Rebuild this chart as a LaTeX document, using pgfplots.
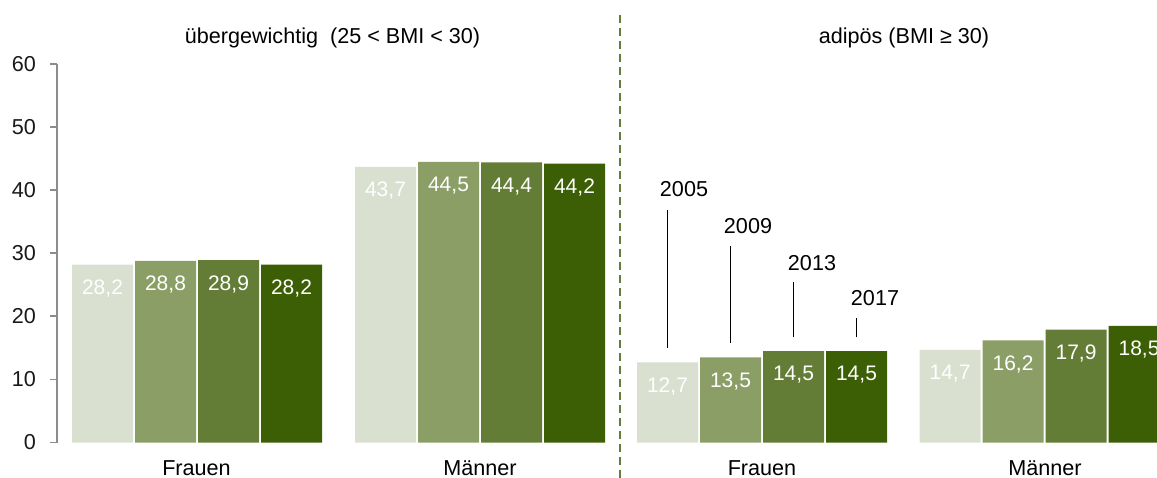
\documentclass[border=0pt]{standalone}
\usepackage{fontspec}
\setmainfont{Liberation Sans}
\usepackage{pgfplots}
\pgfplotsset{compat=1.18}
\definecolor{c1}{RGB}{217,224,207}
\definecolor{c2}{RGB}{138,158,102}
\definecolor{c3}{RGB}{99,125,55}
\definecolor{c4}{RGB}{60,94,4}
\definecolor{dashc}{RGB}{100,125,60}
\definecolor{axgray}{RGB}{140,140,140}
\begin{document}
\begin{tikzpicture}
\begin{axis}[name=ax, scale only axis, width=550pt, height=189.25pt,
  xmin=57, xmax=1157, ymin=0, ymax=60, enlargelimits=false, clip=false,
  hide x axis, axis y line*=left,
  y axis line style={color=axgray, line width=0.9pt},
  ytick={0,10,20,30,40,50,60}, yticklabels={0,10,20,30,40,50,60},
  tick align=outside, major tick length=3.5pt,
  ytick style={color=axgray, line width=0.9pt},
  yticklabel style={font=\fontsize{10.8}{12}\selectfont, text=black!90, xshift=-3.5pt},
  ybar, bar width=61, bar shift=0pt,
  nodes near coords={\pgfmathprintnumber[use comma,fixed,fixed zerofill,precision=1,assume math mode=true]{\pgfplotspointmeta}},
  every node near coord/.append style={anchor=center, yshift=-12pt, text=white, font=\fontsize{10.5}{12}\selectfont},
  font=\fontsize{10.8}{12}\selectfont,
]
\addplot[fill=c1, draw=none] coordinates {(102.5,28.2) (385.5,43.7) (667.5,12.7) (950,14.7)};
\addplot[fill=c2, draw=none] coordinates {(165.5,28.8) (448.5,44.5) (730.5,13.5) (1013,16.2)};
\addplot[fill=c3, draw=none] coordinates {(228.5,28.9) (511.5,44.4) (793.5,14.5) (1076,17.9)};
\addplot[fill=c4, draw=none] coordinates {(291.5,28.2) (574.5,44.2) (856.5,14.5) (1139,18.5)};

\draw[dashc, line width=1pt, dash pattern=on 4pt off 2.5pt] (axis cs:620,67.8) -- (axis cs:620,-5.6);

\draw[black, line width=0.6pt] (axis cs:667.5,15.0) -- (axis cs:667.5,36.9);
\draw[black, line width=0.6pt] (axis cs:730.5,15.8) -- (axis cs:730.5,31.1);
\draw[black, line width=0.6pt] (axis cs:793.5,16.7) -- (axis cs:793.5,25.4);
\draw[black, line width=0.6pt] (axis cs:856.5,16.7) -- (axis cs:856.5,19.7);
\node at (axis cs:684,40.2) {2005};
\node at (axis cs:748,34.3) {2009};
\node at (axis cs:812,28.5) {2013};
\node at (axis cs:875,22.9) {2017};

\node at (axis cs:332.5,64.1) {übergewichtig\ \ (25 < BMI < 30)};
\node at (axis cs:904,64.1) {adipös (BMI ≥ 30)};

\node at (axis cs:196.5,-4.05) {Frauen};
\node at (axis cs:480,-4.05) {Männer};
\node at (axis cs:762,-4.05) {Frauen};
\node at (axis cs:1045,-4.05) {Männer};
\end{axis}
\pgfresetboundingbox
\path ([xshift=-28.5pt,yshift=-17.25pt]ax.south west) rectangle ([yshift=32pt]ax.north east);
\end{tikzpicture}
\end{document}
